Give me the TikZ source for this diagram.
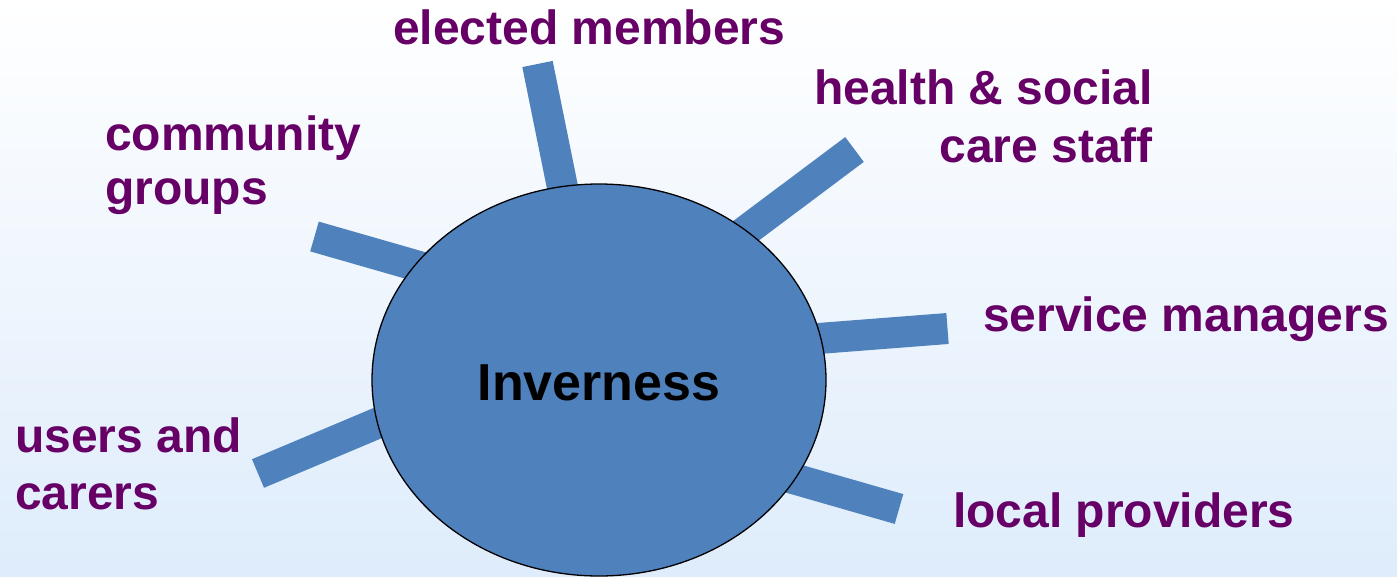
\documentclass[tikz,border=0pt]{standalone}
\usepackage{fontspec}
\setmainfont{Liberation Sans}
\definecolor{spokeblue}{RGB}{79,129,189}
\definecolor{labelpurple}{RGB}{102,0,102}
\definecolor{bgbottom}{RGB}{222,236,251}
\begin{document}
\begin{tikzpicture}[x=1pt,y=-1pt,
  spoke/.style={draw=spokeblue,line width=31pt,line cap=butt},
  lbl/.style={inner sep=0pt,font=\fontsize{48}{57}\selectfont\bfseries,text=labelpurple},
  hubstyle/.style={ellipse,draw=black,line width=1.3pt,fill=spokeblue,minimum width=454pt,minimum height=392pt,inner sep=0pt,font=\fontsize{52}{60}\selectfont\bfseries}]
\usetikzlibrary{shapes.geometric}
\shade[top color=white,bottom color=bgbottom] (0,0) rectangle (1397,576);
\useasboundingbox (0,0) rectangle (1397,576);
% spoke end points
\coordinate (eo) at (537.5,64);   \coordinate (ei) at (575,249);
\coordinate (ho) at (854.5,149.5);\coordinate (hi) at (682.5,278.3);
\coordinate (co) at (314.5,236.5);\coordinate (ci) at (487,286);
\coordinate (so) at (947.5,328.5);\coordinate (si) at (741,344.5);
\coordinate (uo) at (258,473.5);  \coordinate (ui) at (439.5,397);
\coordinate (lo) at (899,509);    \coordinate (li) at (732,461);
\draw[spoke] (eo) -- (ei);
\draw[spoke] (ho) -- (hi);
\draw[spoke] (co) -- (ci);
\draw[spoke] (so) -- (si);
\draw[spoke] (uo) -- (ui);
\draw[spoke] (lo) -- (li);
\node[hubstyle] (hub) at (599,380) {};
\node[inner sep=0pt,font=\fontsize{52}{60}\selectfont\bfseries,anchor=base] (inv) at (599,400) {Inverness};
% labels
\node[lbl,anchor=base west] (elected) at (393,44) {elected members};
\node[lbl,anchor=base east] (health1) at (1153,104) {health \& social};
\node[lbl,anchor=base east] (health2) at (1153,162) {care staff};
\node[lbl,anchor=base west] (comm1) at (105,150) {community};
\node[lbl,anchor=base west] (comm2) at (105,204) {groups};
\node[lbl,anchor=base west] (serv) at (983,331) {service managers};
\node[lbl,anchor=base west] (users1) at (15,452) {users and};
\node[lbl,anchor=base west] (users2) at (15,509) {carers};
\node[lbl,anchor=base west] (local) at (953,527) {local providers};
\end{tikzpicture}
\end{document}
